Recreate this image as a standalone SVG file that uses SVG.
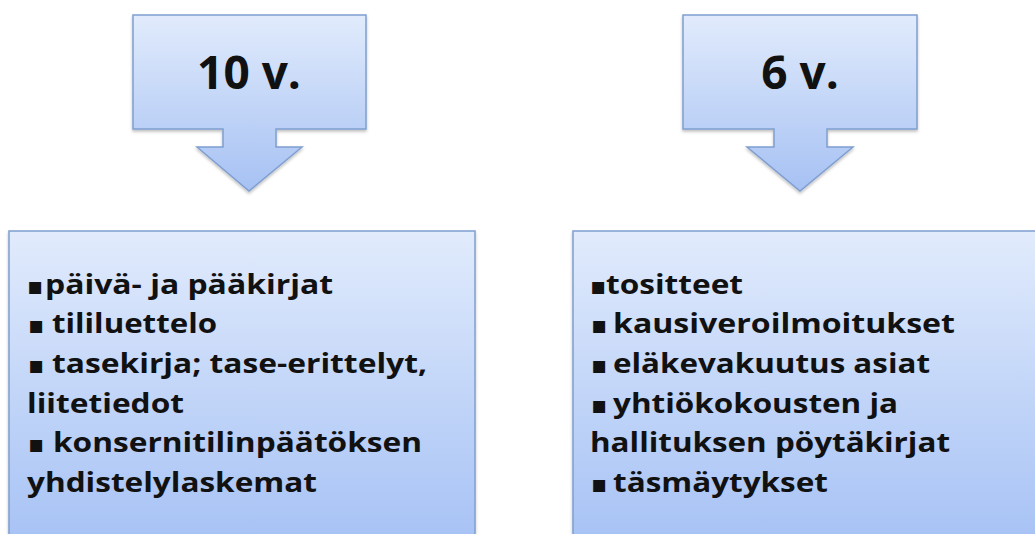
<svg xmlns="http://www.w3.org/2000/svg" width="1035" height="534" viewBox="0 0 1035 534">
<defs>
<linearGradient id="gCall" x1="0" y1="15" x2="0" y2="191" gradientUnits="userSpaceOnUse">
<stop offset="0" stop-color="#e1ebfc"/>
<stop offset="1" stop-color="#a6c1f3"/>
</linearGradient>
<linearGradient id="gBox" x1="0" y1="231" x2="0" y2="534" gradientUnits="userSpaceOnUse">
<stop offset="0" stop-color="#e1ebfc"/>
<stop offset="1" stop-color="#a8c3f5"/>
</linearGradient>
<filter id="sh" x="-5%" y="-5%" width="110%" height="115%">
<feDropShadow dx="0" dy="2" stdDeviation="1.5" flood-color="#000" flood-opacity="0.25"/>
</filter>
</defs>
<style>
.shape{stroke:#7f9fd0;stroke-width:1.5;filter:url(#sh)}
.title{font-family:"Open Sans","Liberation Sans",sans-serif;font-weight:bold;font-size:46px;fill:#111;text-anchor:middle}
.item{font-family:"Open Sans","Liberation Sans",sans-serif;font-weight:bold;font-size:26px;fill:#111}
.bul{font-family:"DejaVu Sans",sans-serif;font-size:24px;fill:#111}
</style>
<rect width="1035" height="534" fill="#ffffff"/>
<g id="callout-10">
<path class="shape" fill="url(#gCall)" d="M133,15 H366 V129 H276 V147 H302 L249,191 L197,147 H223 V129 H133 Z"/>
<text class="title" x="249" y="89">10 v.</text>
</g>
<g id="callout-6">
<path class="shape" fill="url(#gCall)" d="M683,15 H917 V129 H827 V147 H853 L800,191 L747,147 H774 V129 H683 Z"/>
<text class="title" x="800" y="89">6 v.</text>
</g>
<g id="box-10">
<rect class="shape" fill="url(#gBox)" x="9" y="231" width="466" height="320"/>
<text class="bul" x="27" y="294">▪</text>
<text class="item" x="45" y="294" textLength="288" lengthAdjust="spacingAndGlyphs">päivä- ja pääkirjat</text>
<text class="bul" x="28" y="333">▪</text>
<text class="item" x="52" y="333" textLength="165" lengthAdjust="spacingAndGlyphs">tililuettelo</text>
<text class="bul" x="28" y="373">▪</text>
<text class="item" x="52" y="373" textLength="375" lengthAdjust="spacingAndGlyphs">tasekirja; tase-erittelyt,</text>
<text class="item" x="27" y="413" textLength="157" lengthAdjust="spacingAndGlyphs">liitetiedot</text>
<text class="bul" x="28" y="452">▪</text>
<text class="item" x="53" y="452" textLength="369" lengthAdjust="spacingAndGlyphs">konsernitilinpäätöksen</text>
<text class="item" x="27" y="492" textLength="290" lengthAdjust="spacingAndGlyphs">yhdistelylaskemat</text>
</g>
<g id="box-6">
<rect class="shape" fill="url(#gBox)" x="573" y="231" width="480" height="320"/>
<text class="bul" x="590" y="294">▪</text>
<text class="item" x="606" y="294" textLength="137" lengthAdjust="spacingAndGlyphs">tositteet</text>
<text class="bul" x="591" y="333">▪</text>
<text class="item" x="613" y="333" textLength="342" lengthAdjust="spacingAndGlyphs">kausiveroilmoitukset</text>
<text class="bul" x="591" y="373">▪</text>
<text class="item" x="613" y="373" textLength="317" lengthAdjust="spacingAndGlyphs">eläkevakuutus asiat</text>
<text class="bul" x="591" y="413">▪</text>
<text class="item" x="613" y="413" textLength="285" lengthAdjust="spacingAndGlyphs">yhtiökokousten ja</text>
<text class="item" x="590" y="452" textLength="360" lengthAdjust="spacingAndGlyphs">hallituksen pöytäkirjat</text>
<text class="bul" x="591" y="492">▪</text>
<text class="item" x="613" y="492" textLength="215" lengthAdjust="spacingAndGlyphs">täsmäytykset</text>
</g>
<g id="connectors"/>
</svg>
